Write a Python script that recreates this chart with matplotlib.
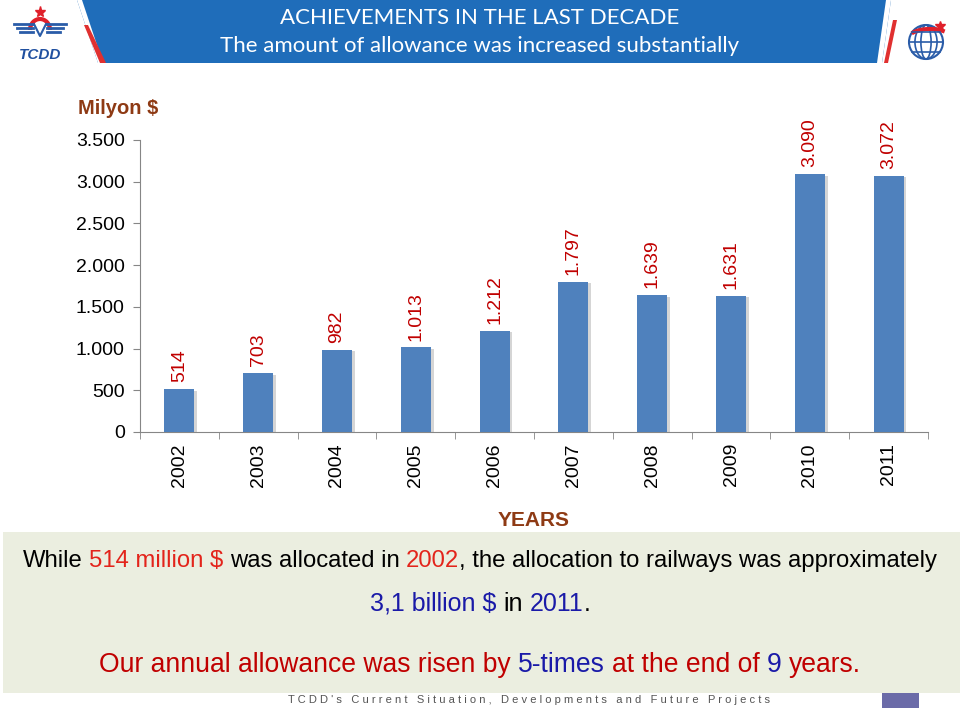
import numpy as np
import matplotlib
matplotlib.use('Agg')
import matplotlib.pyplot as plt
import matplotlib.patheffects as pe
from matplotlib.patches import Polygon, Rectangle, Circle, Ellipse, Arc

years = ['2002', '2003', '2004', '2005', '2006', '2007', '2008', '2009', '2010', '2011']
values = [514, 703, 982, 1013, 1212, 1797, 1639, 1631, 3090, 3072]
value_labels = ['514', '703', '982', '1.013', '1.212', '1.797', '1.639', '1.631', '3.090', '3.072']
y_ticks = [0, 500, 1000, 1500, 2000, 2500, 3000, 3500]
y_tick_labels = ['0', '500', '1.000', '1.500', '2.000', '2.500', '3.000', '3.500']

title1 = 'ACHIEVEMENTS IN THE LAST DECADE'
title2 = 'The amount of allowance was increased substantially'

BLACK = '#000000'
RED = '#E3241B'
BLUE = '#1A1AA8'
DRED = '#C00000'
line1 = [('While', BLACK), ('514 million $', RED), ('was allocated in', BLACK),
         ('2002', RED), (', the allocation to railways was approximately', BLACK)]
line2 = [('3,1 billion $', BLUE), ('in', BLACK), ('2011', BLUE), ('.', BLACK)]
line3 = [('Our annual allowance was risen by', DRED), ('5-times', BLUE),
         ('at the end of', DRED), ('9', BLUE), ('years.', DRED)]
# no space before these pieces
no_space = {', the allocation to railways was approximately', '.'}

footer = "TCDD's Current Situation, Developments and Future Projects"

W, H = 960, 710
plt.rcParams['font.family'] = ['Liberation Sans', 'DejaVu Sans']
fig = plt.figure(figsize=(W / 100, H / 100), dpi=100)

# background / decoration layer in pixel coords
bg = fig.add_axes([0, 0, 1, 1])
bg.set_xlim(0, W)
bg.set_ylim(H, 0)
bg.axis('off')

# header banner
bg.add_patch(Polygon([[77, 0], [891, 0], [882, 63], [98, 63]], closed=True,
                     facecolor='#1F6DBA', edgecolor='none'))
bg.add_patch(Polygon([[77, 0], [82, 0], [103, 63], [98, 63]], closed=True,
                     facecolor='white', edgecolor='none'))
bg.add_patch(Polygon([[84, 25], [88, 25], [106, 63], [100, 63]], closed=True,
                     facecolor='#E03030', edgecolor='none'))
bg.add_patch(Polygon([[886, 0], [891, 0], [882, 63], [877, 63]], closed=True,
                     facecolor='white', edgecolor='none'))
bg.add_patch(Polygon([[893, 20], [897, 20], [888, 63], [884, 63]], closed=True,
                     facecolor='#E03030', edgecolor='none'))
bg.text(480, 18, title1, color='white', fontsize=16, family='Lato',
        ha='center', va='center')
bg.text(480, 46, title2, color='white', fontsize=16, family='Lato',
        ha='center', va='center')

# left logo (TCDD)
bg.plot([40], [12], marker='*', color='#E0202A', markersize=8)
for dy, x0, x1 in [(24, 14, 66), (28, 17, 63), (32, 20, 60)]:
    bg.plot([x0, 33], [dy, dy], color='#2A5CA8', lw=2)
    bg.plot([47, x1], [dy, dy], color='#2A5CA8', lw=2)
bg.add_patch(Arc((40, 30), 20, 22, theta1=180, theta2=360, color='#E0202A', lw=3))
bg.plot([34, 40, 46], [24, 36, 24], color='#2A5CA8', lw=1.5)
bg.text(40, 55, 'TCDD', color='#2050A0', fontsize=11, fontweight='bold',
        style='italic', ha='center', va='center')

# right logo (globe)
gx, gy, gr = 926, 42, 17
bg.add_patch(Circle((gx, gy), gr, facecolor='none', edgecolor='#2A5CA8', lw=1.5))
for w in [0.3, 0.65]:
    bg.add_patch(Ellipse((gx, gy), 2 * gr * w, 2 * gr, facecolor='none',
                         edgecolor='#2A5CA8', lw=1.2))
for k in [-0.6, 0, 0.6]:
    hw = gr * np.sqrt(1 - k ** 2)
    bg.plot([gx - hw, gx + hw], [gy + k * gr, gy + k * gr], color='#2A5CA8', lw=1.2)
bg.add_patch(Arc((gx + 4, gy - 2), 46, 22, theta1=200, theta2=330, color='#E0202A', lw=3))
bg.plot([940], [26], marker='*', color='#E0202A', markersize=7)

# bottom text box
bg.add_patch(Rectangle((3, 532), W - 3, 161, facecolor='#EBEEE0', edgecolor='none'))
bg.add_patch(Rectangle((882, 693), 37, 15, facecolor='#6B6BA8', edgecolor='none'))
bg.text(529, 700, '   '.join(' '.join(w) for w in footer.split(' ')),
        color='#555555', fontsize=8, ha='center', va='center')

# axis labels outside the chart
bg.text(78, 108, 'Milyon $', color='#8E3A14', fontsize=14.5, fontweight='bold',
        ha='left', va='center')
bg.text(534, 520, 'YEARS', color='#8E3A14', fontsize=15, fontweight='bold',
        ha='center', va='center')

# main chart
ax = fig.add_axes([140 / W, 1 - 432 / H, (928 - 140) / W, (432 - 140) / H])
ax.patch.set_alpha(0)
x = np.arange(len(years))
bars = ax.bar(x, values, width=0.38, color='#4F81BD', zorder=3)
for b in bars:
    b.set_path_effects([pe.SimplePatchShadow(offset=(2, -1), shadow_rgbFace='#888888', alpha=0.35),
                        pe.Normal()])
for xi, v, lab in zip(x, values, value_labels):
    ax.annotate(lab, (xi, v), xytext=(0, 5), textcoords='offset points',
                rotation=90, ha='center', va='bottom', color='#C00000', fontsize=14)

ax.set_xlim(-0.5, len(years) - 0.5)
ax.set_ylim(0, 3500)
ax.set_yticks(y_ticks)
ax.set_yticklabels(y_tick_labels, fontsize=14)
ax.set_xticks(x)
ax.set_xticklabels(years, rotation=90, fontsize=14)
ax.set_xticks(np.arange(len(years) + 1) - 0.5, minor=True)
ax.tick_params(axis='x', which='major', length=0, pad=8)
ax.tick_params(axis='x', which='minor', length=5, color='#868686', direction='out')
ax.tick_params(axis='y', length=5, color='#868686', pad=6)
for s in ['top', 'right']:
    ax.spines[s].set_visible(False)
for s in ['left', 'bottom']:
    ax.spines[s].set_color('#868686')


def colored_line(pieces, cy, size):
    first = None
    prev = None
    for txt, col in pieces:
        if prev is None:
            t = bg.text(0, cy, txt, color=col, fontsize=size, ha='left', va='center')
            first = t
        else:
            gap = 0 if txt in no_space else 0.278 * size
            t = bg.annotate(txt, xy=(1, 0), xycoords=prev, xytext=(gap, 0),
                            textcoords='offset points', color=col, fontsize=size,
                            ha='left', va='bottom')
        prev = t
    return first, prev


lines = [(line1, 561, 17.2), (line2, 604, 18), (line3, 665, 19.1)]
made = [colored_line(p, cy, s) for p, cy, s in lines]
fig.canvas.draw()
r = fig.canvas.get_renderer()
for first, last in made:
    x0 = first.get_window_extent(r).x0
    x1 = last.get_window_extent(r).x1
    first.set_x(W / 2 - (x1 - x0) / 2)

fig.savefig('out.png', dpi=100)
